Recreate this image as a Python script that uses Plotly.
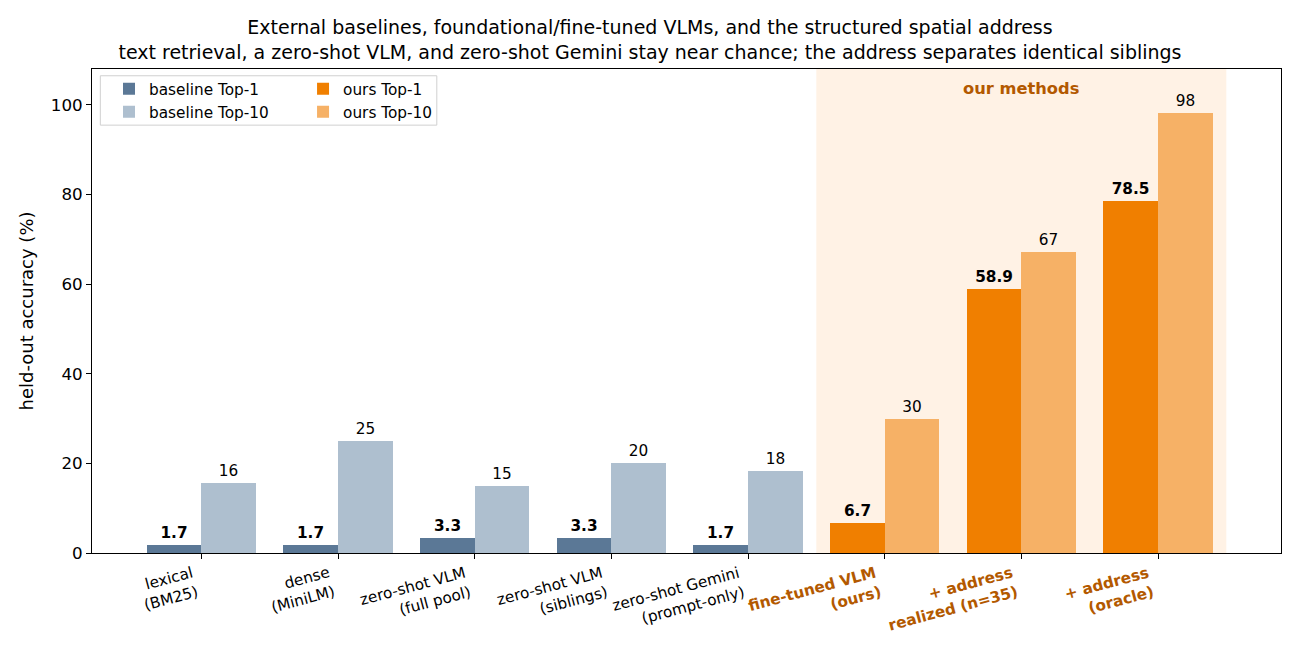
import plotly.graph_objects as go

categories = ["lexical<br>(BM25)", "dense<br>(MiniLM)", "zero-shot VLM<br>(full pool)",
              "zero-shot VLM<br>(siblings)", "zero-shot Gemini<br>(prompt-only)",
              "fine-tuned VLM<br>(ours)", "+ address<br>realized (n=35)", "+ address<br>(oracle)"]
is_ours = [False, False, False, False, False, True, True, True]
top1 = [1.7, 1.7, 3.3, 3.3, 1.7, 6.7, 58.9, 78.5]
top10 = [15.6, 25.0, 15.0, 20.0, 18.2, 30.0, 67.1, 98.1]
yticks = [0, 20, 40, 60, 80, 100]

C_B1 = "#5b7896"
C_B10 = "#aebfcf"
C_O1 = "#f07f00"
C_O10 = "#f6b166"
C_TXT = "#b35900"
FONT = "DejaVu Sans"

base_idx = [i for i, o in enumerate(is_ours) if not o]
ours_idx = [i for i, o in enumerate(is_ours) if o]

fig = go.Figure()

def add(idx, vals, color, name, offset, fmt, bold, legend):
    fig.add_trace(go.Bar(
        x=idx, y=[vals[i] for i in idx], width=0.4, offset=offset,
        marker=dict(color=color, line=dict(width=0)), name=name, legendgroup=name,
        texttemplate=("<b>%{y:" + fmt + "}</b>") if bold else ("%{y:" + fmt + "}"),
        textposition="outside", cliponaxis=False, constraintext="none",
        textfont=dict(family=FONT, size=15.3, color="black"),
        legend=legend, hoverinfo="skip"))

add(base_idx, top1, C_B1, "baseline Top-1", -0.4, ".1f", True, "legend")
add(base_idx, top10, C_B10, "baseline Top-10", 0.0, ".0f", False, "legend")
add(ours_idx, top1, C_O1, "ours Top-1", -0.4, ".1f", True, "legend2")
add(ours_idx, top10, C_O10, "ours Top-10", 0.0, ".0f", False, "legend2")

# category labels (rotated, right-aligned at tick like matplotlib ha='right')
for i, (c, o) in enumerate(zip(categories, is_ours)):
    fig.add_annotation(x=i, y=0, xref="x", yref="y", yshift=-8, xshift=1,
                       xanchor="right", yanchor="top", textangle=-15, align="right",
                       text=f"<b>{c}</b>" if o else c, showarrow=False,
                       font=dict(family=FONT, size=15.3, color=C_TXT if o else "black"))

fig.add_shape(type="rect", xref="x", yref="paper", x0=4.5, x1=7.5, y0=0, y1=1,
              fillcolor="#fff2e5", line=dict(width=0), layer="below")
fig.add_annotation(x=6.0, y=1, xref="x", yref="paper", yshift=-8, yanchor="top",
                   text="<b>our methods</b>", showarrow=False,
                   font=dict(family=FONT, size=16.3, color=C_TXT))
# legend frame
fig.add_shape(type="rect", xref="paper", yref="paper", x0=0.007, x1=0.290, y0=0.884, y1=0.986,
              line=dict(color="#d0d0d0", width=1), fillcolor="rgba(255,255,255,0.8)", layer="above")

fig.update_layout(
    width=1300, height=650,
    margin=dict(l=92, r=19, t=69, b=97),
    plot_bgcolor="white", paper_bgcolor="white",
    barmode="overlay", bargap=0,
    font=dict(family=FONT, size=15, color="black"),
    title=dict(text="External baselines, foundational/fine-tuned VLMs, and the structured spatial address<br>"
                    "text retrieval, a zero-shot VLM, and zero-shot Gemini stay near chance; the address separates identical siblings",
               x=0.5, xanchor="center", yref="container", y=1 - 34 / 650, yanchor="middle",
               font=dict(family=FONT, size=19, color="black")),
    xaxis=dict(range=[-0.8, 7.9], tickvals=list(range(len(categories))),
               ticktext=[""] * len(categories),
               showline=True, linecolor="black", linewidth=1, mirror=True,
               ticks="outside", ticklen=5, tickcolor="black", showgrid=False, zeroline=False),
    yaxis=dict(range=[0, 108], tickvals=yticks, showline=True, linecolor="black", linewidth=1,
               mirror=True, ticks="outside", ticklen=5, tickcolor="black", showgrid=False,
               zeroline=False, tickfont=dict(family=FONT, size=16.7),
               title=dict(text="held-out accuracy (%)", font=dict(family=FONT, size=18), standoff=12)),
    legend=dict(x=0.0143, y=0.993, xanchor="left", yanchor="top", bgcolor="rgba(0,0,0,0)",
                font=dict(family=FONT, size=15.3), tracegroupgap=0, itemwidth=30),
    legend2=dict(x=0.1775, y=0.993, xanchor="left", yanchor="top", bgcolor="rgba(0,0,0,0)",
                 font=dict(family=FONT, size=15.3), tracegroupgap=0, itemwidth=30),
)

fig.write_html("out.html")
